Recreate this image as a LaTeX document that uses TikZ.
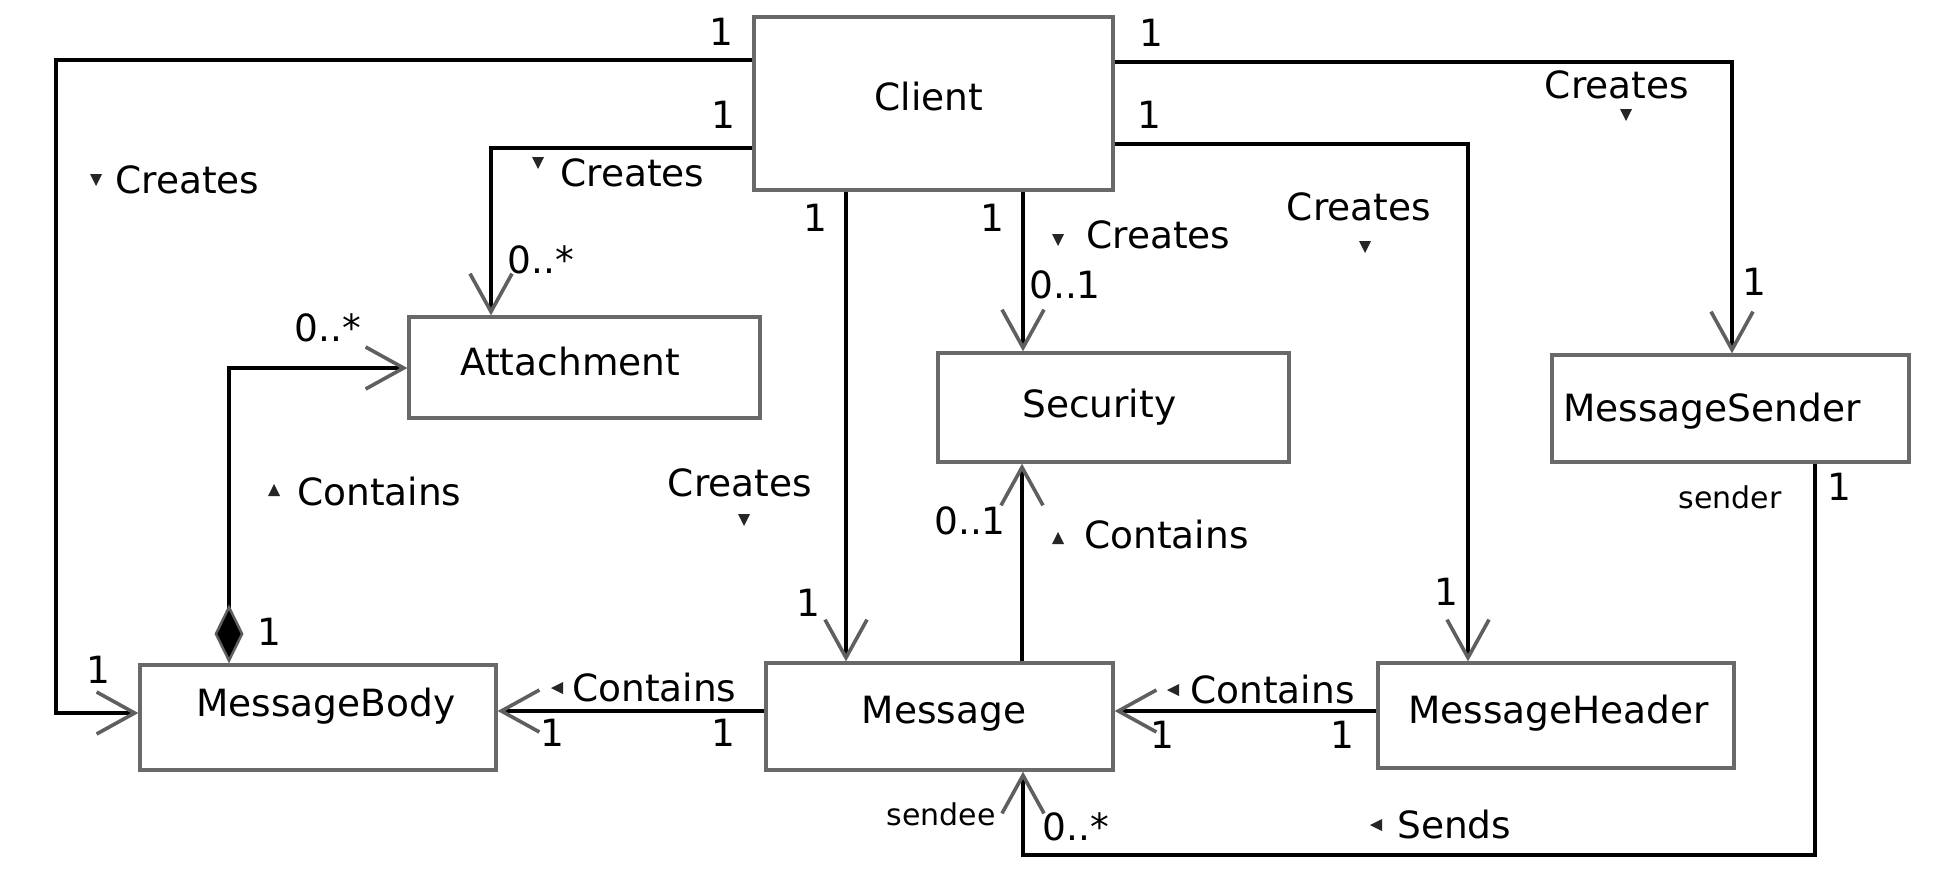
\documentclass[tikz,border=0pt]{standalone}
\usepackage{fontspec}
\setmainfont{DejaVu Sans}
\usetikzlibrary{arrows.meta}
\definecolor{boxgray}{RGB}{105,105,105}
\definecolor{tipgray}{RGB}{95,95,95}
\tikzset{
 cls/.style={draw=boxgray, line width=3.3pt, fill=white, inner sep=0pt},
 conn/.style={draw=black, line width=3.3pt},
 lbl/.style={inner sep=0pt, font=\fontsize{37.5}{45}\selectfont, text height=27pt, text depth=0pt},
 smalllbl/.style={inner sep=0pt, font=\fontsize{30}{36}\selectfont, text height=22pt, text depth=0pt},
 opentip/.tip={Straight Barb[color=tipgray, length=38pt, width=42pt, line width=3.6pt]},
 comptip/.tip={Diamond[length=59pt, width=29pt, color=tipgray, fill=black, line width=2.5pt]},
 trimark/.style={fill=black!85, draw=none},
}
\begin{document}
\begin{tikzpicture}[x=1pt,y=-1pt]
\fill[white] (0,0) rectangle (1950,878);
\path[use as bounding box] (0,0) rectangle (1950,878);

% classes
\node[cls, minimum width=359pt, minimum height=173pt] (client) at (933.5,103.5) {};
\node[cls, minimum width=351pt, minimum height=101pt] (att) at (584.5,367.5) {};
\node[cls, minimum width=351pt, minimum height=109pt] (sec) at (1113.5,407.5) {};
\node[cls, minimum width=357pt, minimum height=107pt] (snd) at (1730.5,408.5) {};
\node[cls, minimum width=356pt, minimum height=105pt] (mb) at (318,717.5) {};
\node[cls, minimum width=347pt, minimum height=107pt] (msg) at (939.5,716.5) {};
\node[cls, minimum width=356pt, minimum height=105pt] (hdr) at (1556,715.5) {};

% class names
\node[lbl] (tclient) at (929,97) {Client};
\node[lbl, anchor=west] (tatt) at (460,362) {Attachment};
\node[lbl, anchor=west] (tsec) at (1022,404) {Security};
\node[lbl, anchor=west] (tsnd) at (1563,408) {MessageSender};
\node[lbl, anchor=west] (tmb) at (196,703) {MessageBody};
\node[lbl] (tmsg) at (944,710) {Message};
\node[lbl, anchor=west] (thdr) at (1408,710) {MessageHeader};

% connectors
\draw[conn,-opentip] (client.west |- 0,60) -- (56,60) |- (mb.west |- 0,713);
\draw[conn,-opentip] (client.west |- 0,148) -| (att.north -| 491,0);
\draw[conn,-opentip] (client.south -| 846,0) -- (msg.north -| 846,0);
\draw[conn,-opentip] (client.south -| 1023,0) -- (sec.north -| 1023,0);
\draw[conn,-opentip] (client.east |- 0,144) -| (hdr.north -| 1468,0);
\draw[conn,-opentip] (client.east |- 0,62) -| (snd.north -| 1732,0);
\draw[conn,comptip-opentip] (mb.north -| 229,0) |- (att.west |- 0,368);
\draw[conn,-opentip] (msg.west |- 0,711) -- (mb.east |- 0,711);
\draw[conn,-opentip] (msg.north -| 1022,0) -- (sec.south -| 1022,0);
\draw[conn,-opentip] (hdr.west |- 0,711) -- (msg.east |- 0,711);
\draw[conn,-opentip] (snd.south -| 1815,0) |- (1023,855) -- (msg.south -| 1023,0);

% multiplicities
\node[lbl] (m1) at (721,32) {1};
\node[lbl] (m2) at (723,115) {1};
\node[lbl] (m3) at (815,218) {1};
\node[lbl] (m4) at (541,260) {0..*};
\node[lbl] (m5) at (328,328) {0..*};
\node[lbl] (m6) at (1151,33) {1};
\node[lbl] (m7) at (1149,115) {1};
\node[lbl] (m8) at (992,218) {1};
\node[lbl] (m9) at (1065,285) {0..1};
\node[lbl] (m10) at (1754,282) {1};
\node[lbl] (m11) at (808,603) {1};
\node[lbl] (m12) at (269,632) {1};
\node[lbl] (m13) at (98,670) {1};
\node[lbl] (m14) at (552,733) {1};
\node[lbl] (m15) at (723,733) {1};
\node[lbl] (m16) at (970,521) {0..1};
\node[lbl] (m17) at (1839,487) {1};
\node[lbl] (m18) at (1076,827) {0..*};
\node[lbl] (m19) at (1446,592) {1};
\node[lbl] (m20) at (1162,735) {1};
\node[lbl] (m21) at (1342,735) {1};
\node[smalllbl] (r1) at (941,814) {sendee};
\node[smalllbl] (r2) at (1730,497) {sender};

% association names
\node[lbl, anchor=west] (a1) at (115,180) {Creates};
\fill[trimark] (90,174) -- (102,174) -- (96,186) -- cycle;
\node[lbl, anchor=west] (a2) at (560,173) {Creates};
\fill[trimark] (532,157) -- (544,157) -- (538,169) -- cycle;
\node[lbl] (a3) at (1617,85) {Creates};
\fill[trimark] (1620,109) -- (1632,109) -- (1626,121) -- cycle;
\node[lbl] (a4) at (1359,207) {Creates};
\fill[trimark] (1359,241) -- (1371,241) -- (1365,253) -- cycle;
\node[lbl, anchor=west] (a5) at (1086,235) {Creates};
\fill[trimark] (1052,234) -- (1064,234) -- (1058,246) -- cycle;
\node[lbl, anchor=west] (a6) at (297,492) {Contains};
\fill[trimark] (268,496) -- (280,496) -- (274,484) -- cycle;
\node[lbl] (a7) at (740,483) {Creates};
\fill[trimark] (738,514) -- (750,514) -- (744,526) -- cycle;
\node[lbl, anchor=west] (a8) at (572,688) {Contains};
\fill[trimark] (563,682) -- (563,694) -- (551,688) -- cycle;
\node[lbl, anchor=west] (a9) at (1084,535) {Contains};
\fill[trimark] (1052,544) -- (1064,544) -- (1058,532) -- cycle;
\node[lbl, anchor=west] (a10) at (1190,690) {Contains};
\fill[trimark] (1179,684) -- (1179,696) -- (1167,690) -- cycle;
\node[lbl, anchor=west] (a11) at (1397,825) {Sends};
\fill[trimark] (1382,819) -- (1382,831) -- (1370,825) -- cycle;
\end{tikzpicture}
\end{document}
